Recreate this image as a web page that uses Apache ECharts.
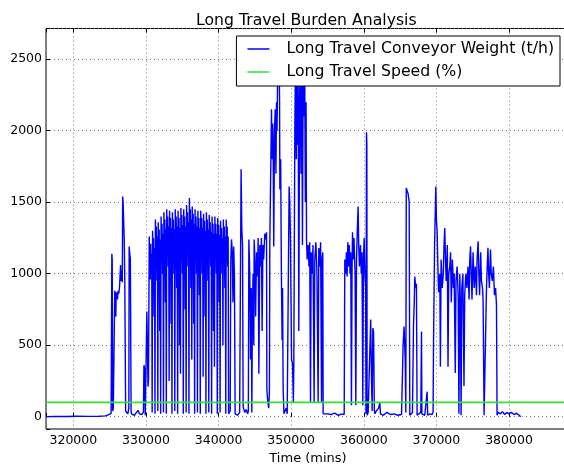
<!DOCTYPE html>
<html>
<head>
<meta charset="utf-8">
<title>Long Travel Burden Analysis</title>
<script src="https://cdn.jsdelivr.net/npm/echarts@6/dist/echarts.min.js"></script>
<style>
  html, body { margin: 0; padding: 0; background: #fff; }
  #chart { width: 564px; height: 466px; }
</style>
</head>
<body>
<div id="chart"></div>
<script>
// [time (mins), weight (t/h)], one array per stretch of the run
var idleStart = [[316230, 0], [317500, 2], [319000, 1], [320500, 3], [322000, 2], [323500, 3], [324400, 6], [324900, 14], [325200, 24]];

var firstBurst = [[325260, 30], [325300, 1140], [325350, 1100], [325410, 40], [325500, 60], [325700, 880], [325780, 860], [325850, 700],
  [325900, 870], [326000, 850], [326080, 820], [326150, 880], [326250, 860], [326350, 900], [326500, 1060], [326580, 950],
  [326650, 1020], [326740, 940], [326790, 1540], [326850, 1500], [326950, 1330], [327000, 1250], [327080, 960], [327200, 40],
  [327300, 30], [327500, 20], [327640, 60], [327684, 1190], [327750, 1150], [327850, 1100], [327950, 40], [328010, 20]];

var lowGap = [[328100, 20], [328400, 10], [328700, 30], [328900, 45], [329100, 20], [329400, 15], [329650, 30], [329720, 360],
  [329800, 340], [329900, 10], [330050, 20], [330120, 735], [330200, 500], [330280, 210], [330350, 260], [330450, 1260]];

var denseBlock = [
  [330520, 1260], [330590, 960], [330650, 1210], [330720, 1000], [330790, 1140], [330850, 30],
  [330910, 1300], [330980, 1000], [331040, 1250], [331110, 700], [331180, 1180], [331240, 20],
  [331300, 1380], [331370, 1080], [331430, 1330], [331500, 950], [331570, 1260], [331630, 40],
  [331690, 1360], [331760, 1060], [331820, 1310], [331890, 600], [331960, 1240], [332020, 20],
  [332080, 1400], [332150, 1100], [332210, 1350], [332280, 1000], [332350, 1280], [332410, 30],
  [332470, 1430], [332540, 1130], [332600, 1380], [332670, 800], [332740, 1310], [332800, 20],
  [332860, 1450], [332930, 1150], [332990, 1400], [333060, 1050], [333130, 1330], [333190, 250],
  [333250, 1440], [333320, 1140], [333380, 1390], [333450, 650], [333520, 1320], [333580, 20],
  [333640, 1430], [333710, 1130], [333770, 1380], [333840, 1000], [333910, 1310], [333970, 40],
  [334030, 1450], [334100, 1150], [334160, 1400], [334230, 900], [334300, 1330], [334360, 20],
  [334420, 1440], [334490, 1140], [334550, 1390], [334620, 500], [334690, 1320], [334750, 300],
  [334810, 1460], [334880, 1160], [334940, 1410], [335010, 1000], [335080, 1340], [335140, 20],
  [335200, 1450], [335270, 1150], [335330, 1400], [335400, 750], [335470, 1330], [335530, 30],
  [335590, 1480], [335660, 1180], [335720, 1430], [335790, 1050], [335860, 1360], [335920, 20],
  [335980, 1530], [336050, 1200], [336110, 1450], [336180, 900], [336250, 1380], [336310, 400],
  [336370, 1470], [336440, 1170], [336500, 1420], [336570, 650], [336640, 1350], [336700, 20],
  [336760, 1450], [336830, 1150], [336890, 1400], [336960, 1000], [337030, 1330], [337090, 30],
  [337150, 1440], [337220, 1140], [337280, 1390], [337350, 850], [337420, 1320], [337480, 20],
  [337540, 1440], [337610, 1140], [337670, 1390], [337740, 1000], [337810, 1320], [337870, 280],
  [337930, 1420], [338000, 1120], [338060, 1370], [338130, 700], [338200, 1300], [338260, 20],
  [338320, 1430], [338390, 1130], [338450, 1380], [338520, 950], [338590, 1310], [338650, 30],
  [338710, 1410], [338780, 1110], [338840, 1360], [338910, 1050], [338980, 1290], [339040, 20],
  [339100, 1400], [339170, 1100], [339230, 1350], [339300, 600], [339370, 1280], [339430, 350],
  [339490, 1400], [339560, 1100], [339620, 1350], [339690, 1000], [339760, 1280], [339820, 20],
  [339880, 1390], [339950, 1090], [340010, 1340], [340080, 800], [340150, 1270], [340210, 30],
  [340270, 1370], [340340, 1070], [340400, 1320], [340470, 1000], [340540, 1250], [340600, 500],
  [340660, 1380], [340730, 1080], [340790, 1330], [340860, 900], [340930, 1260], [340990, 20],
  [341050, 1380], [341120, 1080], [341180, 1330], [341250, 1050], [341320, 1260], [341380, 20]];

var midBurst = [[341450, 10], [341600, 40], [341680, 1100], [341780, 1240], [341880, 1150], [341980, 800], [342080, 1190],
  [342180, 1000], [342280, 20], [342600, 10], [342900, 30], [343100, 1730], [343200, 1310], [343300, 1200], [343380, 70],
  [343600, 30], [343800, 50], [344000, 20], [344100, 40], [344170, 1240], [344250, 1100], [344300, 980], [344400, 400],
  [344500, 900], [344580, 30], [344650, 700], [344750, 1000], [344850, 500], [344900, 1240], [345000, 1100], [345100, 700],
  [345230, 1150], [345350, 980], [345450, 1250], [345550, 300], [345680, 1200], [345800, 1050], [345900, 1250], [346000, 600],
  [346100, 1200], [346200, 1100], [346370, 1280], [346500, 1240], [346600, 1290], [346650, 190], [346750, 120], [346900, 60],
  [347000, 170]];

var peakBurst = [[347058, 1220], [347150, 1590], [347290, 2150], [347350, 1800], [347450, 2050], [347510, 1920], [347600, 1190],
  [347700, 2000], [347800, 2150], [347900, 1700], [347980, 2200], [348050, 2000], [348120, 2320], [348200, 2550], [348340, 2500],
  [348400, 2200], [348440, 1590], [348550, 1800], [348650, 1000], [348750, 535], [348810, 900], [348890, 200], [349000, 20],
  [349120, 10], [349300, 60], [349450, 20], [349580, 30], [349715, 1610], [349800, 1500], [349900, 1240], [350050, 400],
  [350180, 370], [350300, 100], [350360, 380], [350500, 2000], [350600, 2550], [350700, 1800], [350734, 2400], [350850, 1900],
  [350950, 2550], [351050, 600], [351150, 2200], [351250, 2500], [351350, 1700], [351450, 2550], [351550, 1200], [351650, 2400],
  [351750, 2100], [351850, 2550], [351950, 1500], [352050, 2200], [352110, 1240], [352200, 1100], [352330, 1200], [352450, 1050],
  [352550, 1220], [352660, 100], [352750, 1150], [352900, 1000], [353000, 1200], [353160, 100], [353250, 1100], [353400, 1220],
  [353550, 1000], [353710, 100], [353800, 1180], [353950, 1050], [354050, 1220], [354180, 100], [354250, 1100], [354350, 1150],
  [354400, 20]];

var plateauA = [[354500, 10], [355000, 20], [355500, 15], [356000, 25], [356500, 10], [357000, 20], [357300, 15], [357385, 1100],
  [357500, 1000], [357600, 1150], [357700, 980], [357800, 1220], [357900, 1050], [358000, 1200], [358100, 1000], [358200, 1150],
  [358300, 80], [358380, 1000], [358445, 1290], [358550, 1100], [358650, 1250], [358800, 1000], [358900, 80], [359000, 1100],
  [359100, 1300], [359217, 1470], [359300, 1200], [359400, 1050], [359547, 1200], [359650, 1000], [359750, 1150], [359864, 80],
  [359950, 1100], [360050, 1250], [360150, 1000], [360250, 900], [360300, 20], [360374, 1990], [360420, 1900], [360457, 10]];

var laterBurst = [[360600, 30], [360750, 40], [360850, 20], [360950, 680], [361050, 300], [361150, 40], [361250, 620], [361350, 590],
  [361450, 40], [361550, 20], [361700, 40], [361900, 30], [362050, 60], [362200, 100], [362300, 20], [362700, 10], [363200, 30],
  [363700, 15], [364200, 20], [364700, 10], [365200, 15], [365300, 20], [365414, 500], [365550, 631], [365700, 400], [365786, 30],
  [365850, 1600], [365950, 1610], [366100, 1560], [366250, 1500], [366337, 10], [366500, 20], [366700, 30], [366850, 650],
  [366950, 800], [367026, 980], [367150, 900], [367250, 930], [367342, 10], [367600, 20], [367850, 30], [367948, 596], [368000, 20],
  [368400, 10], [368650, 20], [368719, 175], [368800, 10], [369100, 20], [369400, 15]];

var finalBurst = [[369545, 30], [369600, 500], [369750, 1200], [369917, 1610], [370000, 1380], [370100, 1300], [370200, 1050],
  [370300, 870], [370468, 1000], [370550, 350], [370650, 1100], [370800, 900], [370950, 1000], [371050, 1200], [371150, 1320],
  [371250, 1100], [371350, 950], [371500, 1200], [371600, 350], [371700, 1000], [371845, 1050], [371950, 1150], [372050, 800],
  [372200, 1100], [372350, 900], [372450, 1000], [372600, 306], [372700, 950], [372850, 1050], [373000, 850], [373100, 20],
  [373222, 1000], [373300, 800], [373400, 10], [373500, 900], [373650, 1000], [373800, 215], [373900, 850], [374050, 1000],
  [374200, 900], [374350, 1050], [374500, 820], [374599, 1100], [374700, 1192], [374800, 1000], [374900, 820], [375050, 1150],
  [375200, 900], [375350, 1050], [375521, 850], [375600, 1100], [375750, 1227], [375850, 1000], [375950, 850], [376100, 1150],
  [376200, 950], [376350, 900], [376430, 820], [376568, 10], [376700, 20], [376898, 900], [377000, 1050], [377100, 1181],
  [377200, 1000], [377300, 900], [377450, 1170], [377550, 1000], [377700, 950], [377850, 1050], [378000, 850], [378150, 900],
  [378275, 780], [378358, 10]];

var tail = [[378500, 30], [378800, 20], [379100, 35], [379400, 15], [379700, 30], [380000, 20], [380300, 30], [380700, 15],
  [381000, 25], [381400, 10], [381600, 0]];

// speed (%) stays flat the whole time
var speedPoints = [[316230, 100], [388400, 100]];

var xTickLabels = [320000, 330000, 340000, 350000, 360000, 370000, 380000];
var yTickLabels = [0, 500, 1000, 1500, 2000, 2500];

var weightPoints = [].concat(idleStart, firstBurst, lowGap, denseBlock, midBurst, peakBurst, plateauA, laterBurst, finalBurst, tail);

var font = 'DejaVu Sans';
var myChart = echarts.init(document.getElementById('chart'));
var option = {
  animation: false,
  backgroundColor: '#fff',
  title: {
    text: 'Long Travel Burden Analysis',
    left: 196,
    top: 13,
    padding: 0,
    textStyle: { fontFamily: font, fontSize: 15.7, fontWeight: 'normal', color: '#000' }
  },
  legend: {
    orient: 'vertical',
    right: 4,
    top: 36,
    padding: [4, 6, 5, 11],
    itemGap: 5,
    itemWidth: 22,
    itemHeight: 1.5,
    icon: 'rect',
    backgroundColor: '#fff',
    borderColor: '#000',
    borderWidth: 1,
    borderRadius: 0,
    textStyle: { fontFamily: font, fontSize: 15.7, color: '#000', lineHeight: 18, padding: [0, 0, 0, 12] },
    data: ['Long Travel Conveyor Weight (t/h)', 'Long Travel Speed (%)']
  },
  grid: {
    left: 46, right: -6, top: 28.5, bottom: 37,
    containLabel: false, outerBoundsMode: 'none',
    show: true, borderColor: '#000', borderWidth: 1
  },
  xAxis: [{
    type: 'value',
    min: 316230,
    max: 388400,
    splitNumber: 7,
    name: 'Time (mins)',
    nameLocation: 'middle',
    nameGap: 22,
    nameTextStyle: { fontFamily: font, fontSize: 13, color: '#000' },
    axisLine: { show: false },
    axisTick: { inside: true, length: 4, lineStyle: { color: '#000' } },
    axisLabel: {
      margin: 5, fontFamily: font, fontSize: 12.5, color: '#000',
      formatter: function (v) { return xTickLabels.indexOf(v) > -1 ? String(v) : ''; }
    },
    splitLine: { show: true, lineStyle: { color: '#777', type: [1, 3], width: 1 } }
  }, {
    type: 'value',
    position: 'top',
    min: 316230,
    max: 388400,
    splitNumber: 7,
    axisLine: { show: false },
    axisTick: { inside: true, length: 4, lineStyle: { color: '#000' } },
    axisLabel: { show: false },
    splitLine: { show: false }
  }],
  yAxis: {
    type: 'value',
    min: -86,
    max: 2715,
    splitNumber: 6,
    axisLine: { show: false },
    axisTick: { inside: true, length: 4, lineStyle: { color: '#000' } },
    axisLabel: {
      margin: 4, fontFamily: font, fontSize: 12.5, color: '#000',
      formatter: function (v) { return yTickLabels.indexOf(v) > -1 ? String(v) : ''; }
    },
    splitLine: { show: true, lineStyle: { color: '#777', type: [1, 3], width: 1 } }
  },
  series: [{
    name: 'Long Travel Conveyor Weight (t/h)',
    type: 'line',
    symbol: 'none',
    sampling: null,
    data: weightPoints,
    lineStyle: { color: '#0000ff', width: 1.4 },
    itemStyle: { color: '#0000ff' }
  }, {
    name: 'Long Travel Speed (%)',
    type: 'line',
    symbol: 'none',
    data: speedPoints,
    lineStyle: { color: '#33e033', width: 1.6 },
    itemStyle: { color: '#33e033' }
  }]
};
myChart.setOption(option);
</script>
</body>
</html>
